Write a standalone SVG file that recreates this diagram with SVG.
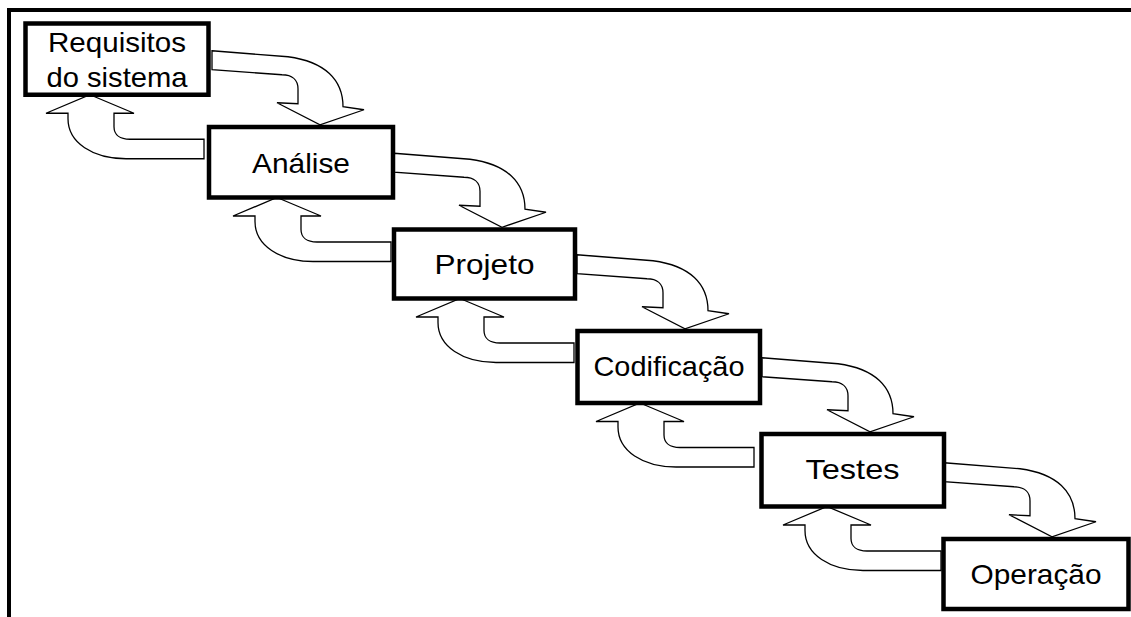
<svg xmlns="http://www.w3.org/2000/svg" width="1131" height="617" viewBox="0 0 1131 617">
<defs>
<style>
.box{fill:#fff;stroke:#000;stroke-width:4.5}
.lbl{font-family:"Liberation Sans",Arial,sans-serif;font-size:28px;fill:#000;text-anchor:middle}
.arr{fill:#fff;stroke:#000;stroke-width:1.3;stroke-linejoin:miter}
.frame{stroke:#000;stroke-width:4;fill:none}
</style>
<path id="fwd" d="M-108,-74 L-32,-68 C5,-63 23,-45 23,-18 L44,-15 L0,0 L-43,-22 L-22,-21 L-22,-36 C-22,-45 -28,-50 -38,-50 L-108,-55 Z"/>
<path id="back" d="M0,0 L44,18.5 L24,18.5 L24,32 C24,40 30,44.5 40,44.5 L114,44.5 L114,64 L36,64 C3,64 -22,48 -22,24 L-22,18.5 L-44,18.5 Z"/>
</defs>
<rect width="1131" height="617" fill="#fff"/>
<path class="frame" d="M9,617 L9,10 L1131,10"/>
<g id="connectors">
<use href="#fwd" class="arr" x="320" y="124.75"/>
<use href="#fwd" class="arr" x="502" y="227.25"/>
<use href="#fwd" class="arr" x="685" y="328.75"/>
<use href="#fwd" class="arr" x="870" y="431.75"/>
<use href="#fwd" class="arr" x="1052" y="536.75"/>
<use href="#back" class="arr" x="90" y="94.75"/>
<use href="#back" class="arr" x="277" y="197.5"/>
<use href="#back" class="arr" x="460" y="298.5"/>
<use href="#back" class="arr" x="640" y="403"/>
<use href="#back" class="arr" x="827" y="506.5"/>
</g>
<g id="node-requisitos">
<rect class="box" x="25.5" y="23.5" width="183" height="71.25"/>
<text class="lbl" x="117" y="52" textLength="138" lengthAdjust="spacingAndGlyphs">Requisitos</text>
<text class="lbl" x="117" y="87" textLength="141" lengthAdjust="spacingAndGlyphs">do sistema</text>
</g>
<g id="node-analise">
<rect class="box" x="209" y="127" width="184" height="70.5"/>
<text class="lbl" x="301" y="173" textLength="98" lengthAdjust="spacingAndGlyphs">Análise</text>
</g>
<g id="node-projeto">
<rect class="box" x="394" y="229.5" width="181" height="69"/>
<text class="lbl" x="484.5" y="274" textLength="100" lengthAdjust="spacingAndGlyphs">Projeto</text>
</g>
<g id="node-codificacao">
<rect class="box" x="577.5" y="331" width="182.5" height="72"/>
<text class="lbl" x="669" y="376" textLength="151" lengthAdjust="spacingAndGlyphs">Codificação</text>
</g>
<g id="node-testes">
<rect class="box" x="761.5" y="434" width="182.5" height="72.5"/>
<text class="lbl" x="852.5" y="479" textLength="94" lengthAdjust="spacingAndGlyphs">Testes</text>
</g>
<g id="node-operacao">
<rect class="box" x="943.5" y="539" width="185" height="70"/>
<text class="lbl" x="1036" y="584" textLength="131" lengthAdjust="spacingAndGlyphs">Operação</text>
</g>
</svg>
